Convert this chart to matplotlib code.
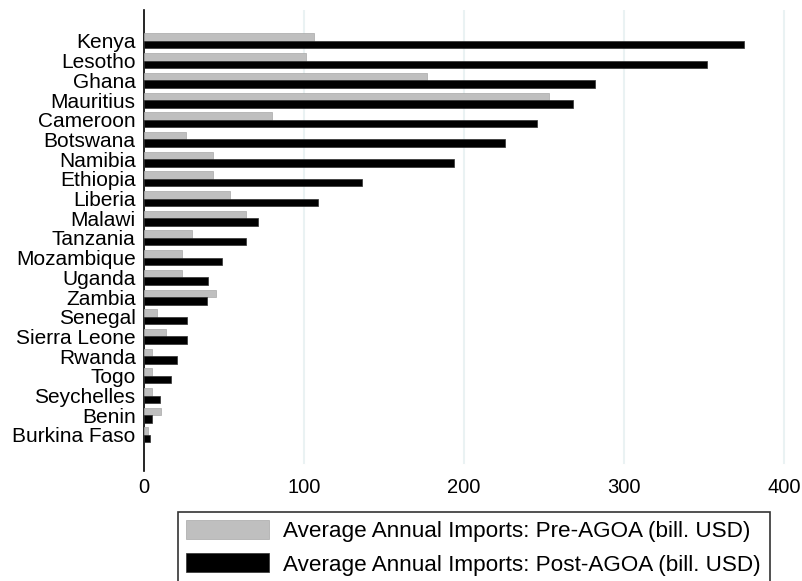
import matplotlib.pyplot as plt

countries = [
    "Kenya", "Lesotho", "Ghana", "Mauritius", "Cameroon", "Botswana",
    "Namibia", "Ethiopia", "Liberia", "Malawi", "Tanzania", "Mozambique",
    "Uganda", "Zambia", "Senegal", "Sierra Leone", "Rwanda", "Togo",
    "Seychelles", "Benin", "Burkina Faso",
]
pre_agoa = [
    106, 101, 177, 253, 80, 26, 43, 43, 54, 64, 30,
    24, 24, 45, 8, 14, 5, 5, 5, 10.5, 2.3,
]
post_agoa = [
    375, 352, 282, 268, 246, 226, 194, 136, 109, 71, 64,
    49, 40, 39.5, 27, 27, 20.5, 17, 10, 5.2, 3.8,
]
xticks = [0, 100, 200, 300, 400]

plt.rcParams["font.family"] = ["Liberation Sans", "DejaVu Sans"]

fig = plt.figure(figsize=(8.03, 5.81), dpi=100)
ax = fig.add_axes([144 / 803, 1 - 471 / 581, 1 - 144 / 803, 461 / 581])

n = len(countries)
ypos = [n - 1 - i for i in range(n)]
h = 0.38
ax.barh([y + 0.19 for y in ypos], pre_agoa, height=h, color="#bfbfbf",
        edgecolor="#a8a8a8", linewidth=0.5,
        label="Average Annual Imports: Pre-AGOA (bill. USD)", zorder=3)
ax.barh([y - 0.19 for y in ypos], post_agoa, height=h, color="black",
        edgecolor="#303030", linewidth=0.5,
        label="Average Annual Imports: Post-AGOA (bill. USD)", zorder=3)

ax.set_xlim(0, 412)
ax.set_ylim(-1.83, n - 1 + 1.57)
for x in xticks[1:]:
    ax.axvline(x, ymin=8 / 461, ymax=1, color="#eaf2f3", linewidth=1.5, zorder=1)

ax.set_xticks(xticks)
ax.set_yticks(ypos)
ax.set_yticklabels(countries)
ax.tick_params(axis="x", length=0, pad=5, labelsize=14.5)
ax.tick_params(axis="y", length=0, pad=6, labelsize=15)

for side in ["top", "right", "bottom"]:
    ax.spines[side].set_visible(False)
ax.spines["left"].set_linewidth(1.2)

# legend box runs past the bottom edge of the figure
leg = fig.legend(loc="upper left", bbox_to_anchor=(178 / 803, 1 - 512 / 581, 592 / 803, 0),
                 mode="expand", borderaxespad=0, fontsize=16.2, frameon=True,
                 fancybox=False, edgecolor="black", handlelength=3.7,
                 handleheight=0.9, handletextpad=0.62, labelspacing=0.5,
                 borderpad=0.36)
leg.get_frame().set_linewidth(1.2)

fig.savefig("out.png", dpi=100)
